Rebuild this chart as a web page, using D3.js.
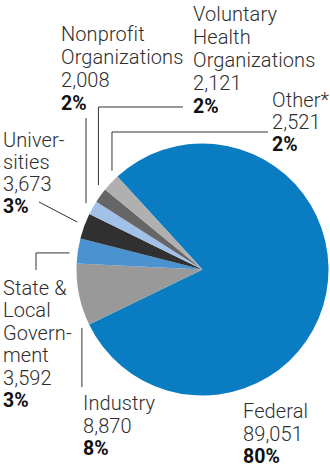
<!DOCTYPE html>
<html>
<head>
<meta charset="utf-8">
<script src="https://cdn.jsdelivr.net/npm/d3@7"></script>
<style>
  html, body { margin: 0; padding: 0; background: #fff; }
  svg { display: block; }
  .lbl { font-family: Roboto, "Liberation Sans", Arial, sans-serif; font-weight: 300; font-size: 20px; fill: #2e2e2e; letter-spacing: 0.1px; }
  .pct { font-weight: bold; fill: #111; letter-spacing: 0; font-size: 19.5px; }
  .leader { fill: none; stroke: #333; stroke-width: 1; }
</style>
</head>
<body>
<svg id="chart" width="330" height="467"></svg>
<script>
// Funding sources, in drawing order (clockwise from the top-left edge of Federal)
const categories = ["Federal", "Industry", "State & Local Government", "Universities",
                    "Nonprofit Organizations", "Voluntary Health Organizations", "Other*"];
const nameLines = [["Federal"], ["Industry"], ["State &", "Local", "Govern-", "ment"],
                   ["Univer-", "sities"], ["Nonprofit", "Organizations"],
                   ["Voluntary", "Health", "Organizations"], ["Other*"]];
const values = [89051, 8870, 3592, 3673, 2008, 2121, 2521];
const shares = ["80%", "8%", "3%", "3%", "2%", "2%", "2%"];
const colors = ["#0a7cc1", "#999999", "#4a92d0", "#303030", "#a2c1e8", "#666666", "#b0b0b0"];

// Label placement and leader styles, keyed by category index
const layout = [
  { x: 243, y: 418, lh: 22.5, leader: null },
  { x: 83,  y: 410, lh: 22.5, leader: { t: 0.0,  kind: "down",  y: 387 } },
  { x: 3,   y: 295, lh: 22.4, leader: { t: 0.38, kind: "leftDown", x: 36, y: 270 } },
  { x: 3,   y: 147, lh: 22,   leader: { t: 0.55, kind: "straight", x: 39, y: 202 } },
  { x: 61,  y: 41,  lh: 23,   leader: { t: 0.55, kind: "up", y: 118 } },
  { x: 193, y: 21,  lh: 23,   leader: { t: 0.95, kind: "upRight", x: 183, y: 107 } },
  { x: 272, y: 107, lh: 22,   leader: { t: 1.0,  kind: "upRight", x: 268, y: 132 } }
];

const cx = 202.5, cy = 269.5, radius = 126;
const startAngle = -42.5 * Math.PI / 180;

const svg = d3.select("#chart");
const g = svg.append("g").attr("transform", `translate(${cx},${cy})`);

const pie = d3.pie().sort(null).value(d => d)
  .startAngle(startAngle).endAngle(startAngle + 2 * Math.PI);
const arcs = pie(values);
const arc = d3.arc().innerRadius(0).outerRadius(radius);

g.selectAll("path.slice").data(arcs).join("path")
  .attr("class", "slice")
  .attr("d", arc)
  .attr("fill", (d, i) => colors[i]);

// Leader lines start just outside the rim, at a fraction t across each slice
const rim = d3.arc().innerRadius(radius + 8).outerRadius(radius + 8);
arcs.forEach((d, i) => {
  const L = layout[i].leader;
  if (!L) return;
  const a = d.startAngle + L.t * (d.endAngle - d.startAngle);
  const [px, py] = rim.centroid({ startAngle: a, endAngle: a });
  const x0 = cx + px, y0 = cy + py;
  let pts;
  if (L.kind === "down" || L.kind === "up") pts = [[x0, y0], [x0, L.y]];
  else if (L.kind === "upRight") pts = [[x0, y0], [x0, L.y], [L.x, L.y]];
  else if (L.kind === "leftDown") pts = [[x0, y0], [L.x, y0], [L.x, L.y]];
  else pts = [[x0, y0], [L.x, L.y]];
  svg.append("path").attr("class", "leader").attr("d", d3.line()(pts));
});

// Text labels: name lines, value, bold share
const fmt = d3.format(",");
categories.forEach((c, i) => {
  const lay = layout[i];
  const t = svg.append("text").attr("class", "lbl");
  const rows = nameLines[i].map(s => ({ s, bold: false }))
    .concat([{ s: fmt(values[i]), bold: false }, { s: shares[i], bold: true }]);
  rows.forEach((r, k) => {
    t.append("tspan")
      .attr("x", lay.x)
      .attr("y", lay.y + k * lay.lh)
      .attr("class", r.bold ? "pct" : null)
      .text(r.s);
  });
});
</script>
</body>
</html>
